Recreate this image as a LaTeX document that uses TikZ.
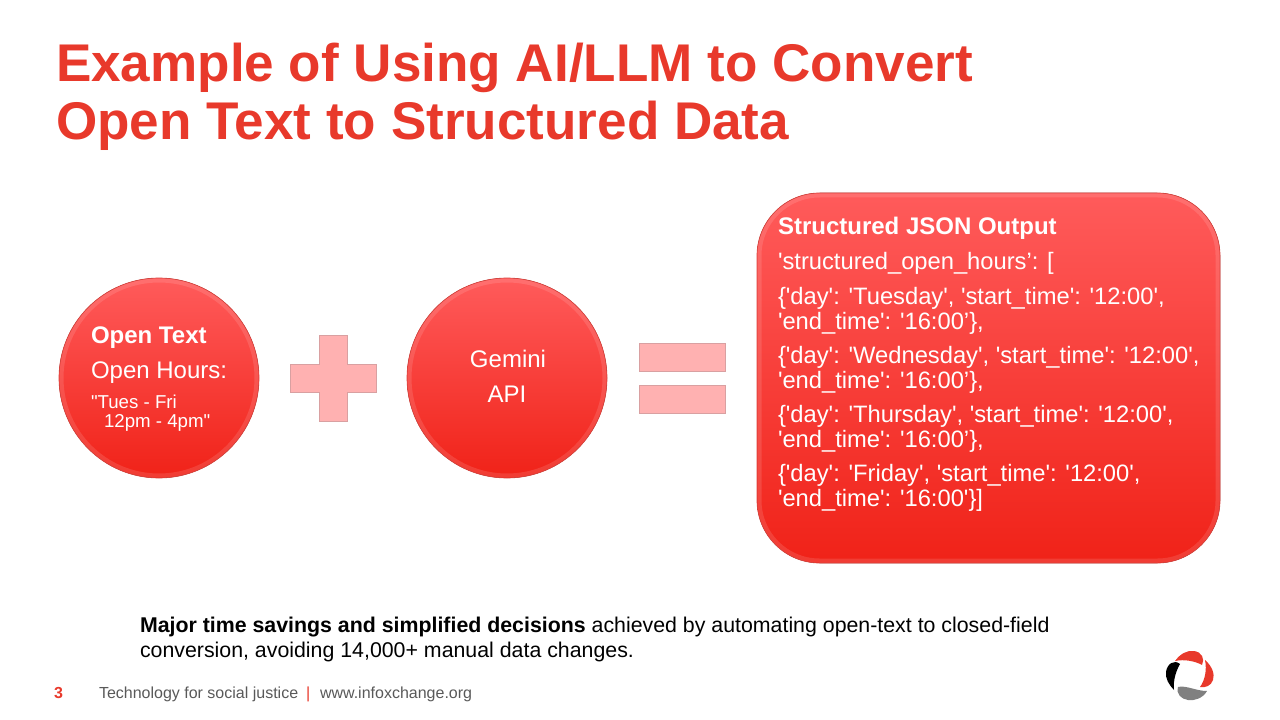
\documentclass[tikz,border=0pt]{standalone}
\usepackage{fontspec}
\setmainfont{Liberation Sans}[Ligatures=TeXOff]
\definecolor{slidered}{HTML}{E8392B}
\definecolor{lighttop}{HTML}{FF5B5B}
\definecolor{midred}{HTML}{FF3028}
\definecolor{darkbot}{HTML}{F02218}
\definecolor{edgered}{HTML}{D8443E}
\definecolor{palered}{HTML}{FFB1B1}
\definecolor{paleedge}{HTML}{D9A0A1}
\definecolor{footgray}{HTML}{595959}
\definecolor{logogray}{HTML}{808080}
\tikzset{
  blob/.style={draw=edgered, line width=0.5pt, top color=lighttop, middle color=midred, bottom color=darkbot},
  rim/.style={draw=white, draw opacity=0.12, line width=3pt},
  sign/.style={draw=paleedge, line width=0.5pt, fill=palered},
  txt/.style={anchor=base west, inner sep=0pt, outer sep=0pt},
  wtxt/.style={txt, text=white},
}
\begin{document}
\begin{tikzpicture}[x=0.75pt, y=-0.75pt]
  \useasboundingbox (0,0) rectangle (1280,720);

  \node[txt, text=slidered, font=\fontsize{39.8}{40}\selectfont\bfseries] (title-1) at (56,82) {Example of Using AI/LLM to Convert};
  \node[txt, text=slidered, font=\fontsize{39.8}{40}\selectfont\bfseries] (title-2) at (56,140) {Open Text to Structured Data};

  % circles
  \foreach \name/\x in {open/159, gemini/507} {
    \fill[blob] (\x,378) circle (100);
    \draw[rim] (\x,378) circle (97.5);
  }

  \node[wtxt, font=\fontsize{18}{18}\selectfont\bfseries] (open-head) at (91,343) {Open Text};
  \node[wtxt, font=\fontsize{18}{18}\selectfont] (open-hours) at (91,378) {Open Hours:};
  \node[wtxt, font=\fontsize{14}{14}\selectfont] (open-a) at (91,408) {"Tues - Fri};
  \node[wtxt, font=\fontsize{14}{14}\selectfont] (open-b) at (104,427) {12pm - 4pm"};

  \node[text=white, font=\fontsize{18}{18}\selectfont, anchor=base] (gemini-a) at (508,367) {Gemini};
  \node[text=white, font=\fontsize{18}{18}\selectfont, anchor=base] (gemini-b) at (507,402) {API};

  % plus and equals
  \draw[sign] (319,335) -- (347,335) -- (347,364) -- (376,364) -- (376,392) -- (347,392)
    -- (347,421) -- (319,421) -- (319,392) -- (290,392) -- (290,364) -- (319,364) -- cycle;
  \draw[sign] (639,343) rectangle (725,371);
  \draw[sign] (639,385) rectangle (725,413);

  % json box
  \fill[blob, rounded corners=47pt] (757,193) rectangle (1220,563);
  \draw[rim, rounded corners=45pt] (759.5,195.5) rectangle (1217.5,560.5);

  \node[wtxt, font=\fontsize{18}{18}\selectfont\bfseries] (json-head) at (778,234) {Structured JSON Output};
  \foreach \i/\y/\line in {
    1/269/{'structured\_open\_hours’: [},
    2/304/{\{'day': 'Tuesday', 'start\_time': '12:00',},
    3/329/{'end\_time': '16:00’\},},
    4/363/{\{'day': 'Wednesday', 'start\_time': '12:00',},
    5/388/{'end\_time': '16:00’\},},
    6/422/{\{'day': 'Thursday', 'start\_time': '12:00',},
    7/447/{'end\_time': '16:00’\},},
    8/481/{\{'day': 'Friday', 'start\_time': '12:00',},
    9/506/{'end\_time': '16:00'\}]}} {
    \node[wtxt, font=\fontsize{17.8}{18}\selectfont] (json-\i) at (778,\y) {\line};
  }

  % bottom note
  \node[txt, font=\fontsize{16}{16}\selectfont] (note-1) at (140,632) {\textbf{Major time savings and simplified decisions} achieved by automating open-text to closed-field};
  \node[txt, font=\fontsize{16}{16}\selectfont] (note-2) at (140,657) {conversion, avoiding 14,000+ manual data changes.};

  % footer
  \node[txt, text=slidered, font=\fontsize{12}{12}\selectfont\bfseries] (page-num) at (54,698) {3};
  \node[txt, text=footgray, font=\fontsize{12}{12}\selectfont] (foot-a) at (99,698) {Technology for social justice};
  \node[txt, text=slidered, font=\fontsize{12}{12}\selectfont] (foot-bar) at (306,698) {|};
  \node[txt, text=footgray, font=\fontsize{12}{12}\selectfont] (foot-b) at (320,698) {www.infoxchange.org};

  % logo
  \fill[slidered] (1175,661) .. controls (1180,654) and (1187,650) .. (1194,651)
    .. controls (1202,652) and (1205,659) .. (1202,665) .. controls (1195,661) and (1184,659) .. cycle;
  \fill[slidered] (1205,660) .. controls (1212,666) and (1215,674) .. (1213,680)
    .. controls (1211,686) and (1205,688) .. (1200,687) .. controls (1205,680) and (1207,670) .. cycle;
  \fill[logogray] (1178,687) .. controls (1186,685) and (1196,691) .. (1207,691)
    .. controls (1203,698) and (1195,701) .. (1188,700) .. controls (1181,699) and (1176,694) .. cycle;
  \fill[black] (1180,664) .. controls (1176,671) and (1173,680) .. (1174,690)
    .. controls (1169,685) and (1165,678) .. (1166,672) .. controls (1167,664) and (1174,659) .. cycle;
\end{tikzpicture}
\end{document}
